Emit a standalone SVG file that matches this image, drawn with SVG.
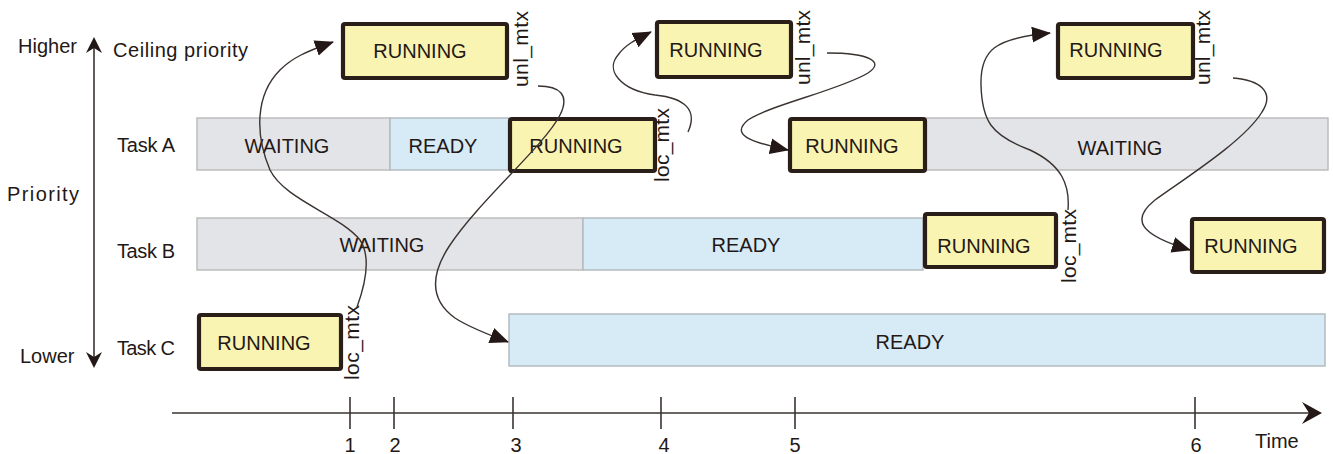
<svg xmlns="http://www.w3.org/2000/svg" width="1333" height="454" viewBox="0 0 1333 454">
<defs>
<style>
text{font-family:"Liberation Sans",Arial,sans-serif;fill:#231815}
.lbl{font-size:20px}
.box{font-size:20px;text-anchor:middle}
.num{font-size:20px;text-anchor:middle}
.rot{font-size:21px}
.wait{fill:#e3e4e8;stroke:#bdbdbd;stroke-width:1.5}
.ready{fill:#d6ebf6;stroke:#b3bcc0;stroke-width:1.5}
.run{fill:#f9f4b2;stroke:#2a1e18;stroke-width:4.2;stroke-linejoin:round}
.axis{stroke:#3a3330;stroke-width:1.6;fill:none}
.conn{stroke:#3a3330;stroke-width:1.4;fill:none;marker-end:url(#arr)}
</style>
<marker id="arr" markerUnits="userSpaceOnUse" markerWidth="20" markerHeight="18" refX="18" refY="9" orient="auto">
<path d="M0,1 L19,9 L0,17 z" fill="#231815"/>
</marker>
</defs>

<g id="priority-axis">
<line class="axis" x1="94" y1="46" x2="94" y2="359"/>
<path d="M94,37 L102,53 L94,48 L86,53 z" fill="#231815"/>
<path d="M94,368 L102,352 L94,357 L86,352 z" fill="#231815"/>
<text class="lbl" x="18" y="53">Higher</text>
<text class="lbl" x="7" y="201" font-size="22" textLength="72">Priority</text>
<text class="lbl" x="20" y="363">Lower</text>
</g>

<g id="row-labels">
<text class="lbl" x="113" y="57" textLength="135">Ceiling priority</text>
<text class="lbl" x="117" y="152" textLength="58">Task A</text>
<text class="lbl" x="117" y="258" textLength="58">Task B</text>
<text class="lbl" x="117" y="355" textLength="58">Task C</text>
</g>

<g id="time-axis">
<line class="axis" x1="172" y1="413" x2="1310" y2="413"/>
<path d="M1322,413 L1302,402 L1309,413 L1302,424 z" fill="#231815"/>
<g class="axis">
<line x1="350" y1="397" x2="350" y2="429"/>
<line x1="394" y1="397" x2="394" y2="429"/>
<line x1="513" y1="397" x2="513" y2="429"/>
<line x1="661" y1="397" x2="661" y2="429"/>
<line x1="795" y1="397" x2="795" y2="429"/>
<line x1="1195" y1="397" x2="1195" y2="429"/>
</g>
<text class="num" x="350" y="452">1</text>
<text class="num" x="395" y="452">2</text>
<text class="num" x="516" y="452">3</text>
<text class="num" x="664" y="452">4</text>
<text class="num" x="795" y="452">5</text>
<text class="num" x="1196" y="452">6</text>
<text class="lbl" x="1255" y="448">Time</text>
</g>

<g id="taskA-waiting1"><rect class="wait" x="197" y="118" width="193" height="52"/><text class="box" x="287" y="153">WAITING</text></g>
<g id="taskA-ready"><rect class="ready" x="390" y="118" width="119" height="52"/><text class="box" x="443" y="153">READY</text></g>
<g id="taskA-waiting2"><rect class="wait" x="925" y="118" width="403" height="52"/><text class="box" x="1120" y="155">WAITING</text></g>
<g id="taskB-waiting"><rect class="wait" x="197" y="218" width="386" height="52"/><text class="box" x="382" y="252">WAITING</text></g>
<g id="taskB-ready"><rect class="ready" x="583" y="218" width="340" height="52"/><text class="box" x="746" y="252">READY</text></g>
<g id="taskC-ready"><rect class="ready" x="509" y="314" width="816" height="52"/><text class="box" x="910" y="349">READY</text></g>

<g id="taskC-running"><rect class="run" x="199" y="315" width="142" height="54" rx="2"/><text class="box" x="264" y="350">RUNNING</text></g>
<g id="ceiling-running1"><rect class="run" x="343" y="24" width="164" height="54" rx="2"/><text class="box" x="420" y="58">RUNNING</text></g>
<g id="taskA-running1"><rect class="run" x="510" y="119" width="145" height="52" rx="2"/><text class="box" x="576" y="153">RUNNING</text></g>
<g id="ceiling-running2"><rect class="run" x="657" y="22" width="134" height="55" rx="2"/><text class="box" x="716" y="57">RUNNING</text></g>
<g id="taskA-running2"><rect class="run" x="790" y="119" width="135" height="52" rx="2"/><text class="box" x="852" y="153">RUNNING</text></g>
<g id="taskB-running1"><rect class="run" x="925" y="214" width="131" height="53" rx="2"/><text class="box" x="984" y="253">RUNNING</text></g>
<g id="ceiling-running3"><rect class="run" x="1058" y="24" width="135" height="54" rx="2"/><text class="box" x="1116" y="57">RUNNING</text></g>
<g id="taskB-running2"><rect class="run" x="1192" y="219" width="132" height="53" rx="2"/><text class="box" x="1251" y="253">RUNNING</text></g>

<g id="mutex-labels">
<text class="rot" transform="translate(359,380) rotate(-90)" textLength="75">loc_mtx</text>
<text class="rot" transform="translate(528,87) rotate(-90)" textLength="76">unl_mtx</text>
<text class="rot" transform="translate(669,182) rotate(-90)" textLength="74">loc_mtx</text>
<text class="rot" transform="translate(810,85) rotate(-90)" textLength="75">unl_mtx</text>
<text class="rot" transform="translate(1076,283) rotate(-90)" textLength="74">loc_mtx</text>
<text class="rot" transform="translate(1210,85) rotate(-90)" textLength="75">unl_mtx</text>
</g>

<g id="connectors">
<path class="conn" d="M357,307 C365,285 372,258 360,240 C340,215 285,200 270,170 C255,135 255,95 280,70 C292,58 305,52 333,42"/>
<path class="conn" d="M538,86 C560,86 570,95 560,115 C545,145 480,200 450,245 C430,275 430,300 455,318 C470,328 490,335 508,342"/>
<path class="conn" d="M688,132 C698,110 685,98 655,95 C620,90 605,70 618,55 C625,45 635,40 651,32"/>
<path class="conn" d="M827,53 C870,53 885,62 868,73 C840,90 770,105 748,120 C730,135 750,142 788,150"/>
<path class="conn" d="M1068,210 C1070,185 1062,165 1030,150 C990,135 982,120 981,85 C980,50 995,38 1050,33"/>
<path class="conn" d="M1233,78 C1260,80 1275,92 1262,112 C1245,140 1190,175 1155,200 C1130,220 1140,235 1190,250"/>
</g>
</svg>
